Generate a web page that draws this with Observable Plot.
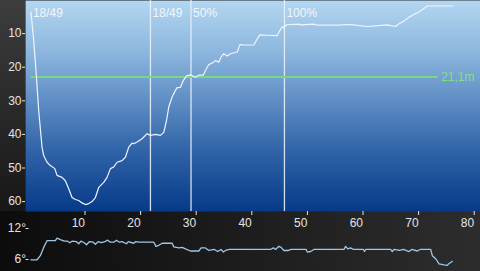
<!DOCTYPE html>
<html><head><meta charset="utf-8">
<script src="https://cdn.jsdelivr.net/npm/d3@7"></script>
<script src="https://cdn.jsdelivr.net/npm/@observablehq/plot@0.6"></script>
<style>
html,body{margin:0;padding:0;background:#000;}
#wrap{position:relative;width:480px;height:271px;overflow:hidden;background:linear-gradient(to right,#0c0c0c,#2d2d2d);font-family:"Liberation Sans",Arial,sans-serif;}
#strip{position:absolute;left:0;top:0;width:25px;height:211px;background:linear-gradient(#3d3d3d,#171717);}
#main,#temp{position:absolute;left:0;}
#main{top:0}
#temp{top:211px}
svg{overflow:visible;display:block}
</style></head><body>
<div id="wrap"><div id="strip"></div><div id="main"></div><div id="temp"></div></div>
<script>
// ---- data ----
const depthTime = [0,0.5,1.0,1.4,2.0,2.3,2.9,3.5,4.3,4.7,5.6,6.2,6.8,7.4,8.0,8.6,9.2,9.8,10.4,11.0,11.6,12.2,13.1,13.7,14.3,14.9,15.5,16.4,17.0,17.6,18.2,18.5,19.1,20.0,20.9,21.5,22.4,23.3,23.9,24.4,24.8,25.4,26.0,26.3,26.9,27.4,28.0,28.7,29.6,30.2,31.0,31.4,32.0,32.6,33.2,33.8,34.2,34.7,35.3,35.9,37.1,37.6,38.3,40.1,40.7,41.2,42.5,44.3,44.6,45.2,45.5,45.8,46.7,48.2,48.5,50.9,51.2,55.1,57.5,58.0,60.5,64.1,65.6,66.2,67.1,68.0,68.9,69.8,71.3,75.8];
const depthValue = [1.8,10,21.3,31,42,44.5,46.5,47.5,48.4,50.4,51,52,54.4,57,57.6,57.9,58.6,59.1,58.8,58.2,57,54,52.5,51,48.4,47.9,46.5,46,45,42,40.8,41,40.5,39.5,38,38.5,38.2,38.5,37.6,34,30,27.1,25.1,24.3,24.2,22.2,20.8,20.5,21.2,20.6,20.6,19.2,17.4,17,16.2,16.7,15.2,14.2,14.9,14.2,13.7,11.5,11.6,11.6,9.8,8.6,8.7,8.8,7.8,6.1,6.6,5.7,5.5,5.4,5.6,5.4,5.6,5.7,5.5,5.6,6.1,5.6,6.1,5.3,4.5,3.3,2.5,1.8,0,0];

const tempTime = [0,1.1,1.7,2.3,2.9,4.4,4.7,5.3,6.0,6.6,7.0,7.4,8.2,8.6,9.0,9.6,10.0,10.5,11.2,11.6,12.1,12.7,13.3,13.8,14.3,14.9,15.4,15.9,16.4,17.2,17.5,18.5,18.8,19.5,22.1,22.5,23.0,23.6,25.4,25.7,26.6,27.2,27.8,28.7,30.2,30.6,31.4,32.0,33.0,33.6,34.2,34.6,35.0,35.7,40.4,43.1,43.6,44.0,44.6,45.0,45.5,46.3,46.8,49.5,49.7,50.3,50.9,56.3,56.6,57.0,57.5,58.0,59.8,60.0,60.2,64.7,65.0,65.3,66.3,67.0,68.0,68.5,69.5,70.0,71.9,72.2,72.8,73.4,74.3,74.9,75.1,75.8];
const tempValue = [7.3,7.3,8.1,9.7,11.0,11.0,11.5,11.2,10.9,10.9,10.6,10.9,10.8,10.4,10.9,10.6,10.2,10.8,10.7,10.3,10.8,10.6,10.8,11.1,10.7,10.7,11.1,10.7,10.8,10.4,10.8,10.5,10.8,10.7,10.7,9.9,10.1,10.5,10.5,9.8,9.6,9.7,9.4,9.0,9.0,9.6,9.6,9.1,9.3,8.9,9.3,8.8,9.1,9.3,9.3,9.3,9.6,9.3,9.9,9.7,9.1,9.1,9.3,9.3,8.8,8.9,9.3,9.3,9.9,9.4,9.6,9.3,9.3,8.9,9.3,9.3,8.9,9.3,9.1,9.3,8.9,9.3,9.0,9.3,9.3,8.1,7.5,6.5,6.3,6.2,6.5,7.0];

const eventTime = [0,21.5,28.8,45.6];
const eventLabel = ["18/49","18/49","50%","100%"];
const eventHasLine = [false,true,true,true];

const limitDepth = 21.1;
const limitLabel = "21,1m";
const limitStart = 0;
const limitEnd = 73.3;

const xTicks = [10,20,30,40,50,60,70,80];
const yTicks = [10,20,30,40,50,60];
const tempTicks = [6,12];

const xDomain = [-0.97,80.86];
const depthDomain = [-1.64,61.16];
const tempDomain = [6,12];

// ---- tables ----
const depth = depthTime.map((t,i)=>({t, d: depthValue[i]}));
const temps = tempTime.map((t,i)=>({t, T: tempValue[i]}));
const events = eventTime.map((t,i)=>({t, label: eventLabel[i], line: eventHasLine[i]}));

const font = "Liberation Sans, Arial, sans-serif";
const txt = "#e4e4e4";

const main = Plot.plot({
  width:480, height:235,
  marginLeft:25, marginRight:0, marginTop:0, marginBottom:24,
  style:{background:"transparent", fontFamily:font, fontSize:"12px", color:txt, overflow:"visible"},
  x:{domain:xDomain},
  y:{domain:depthDomain, reverse:true},
  marks:[
    Plot.frame({fill:"url(#bgGrad)", stroke:"none"}),
    Plot.ruleX(events.filter(e=>e.line), {x:"t", stroke:"#e8eff7", strokeWidth:1.3, strokeOpacity:0.9}),
    Plot.text(events, {x:"t", text:"label", frameAnchor:"top", dy:7.5, dx:2, textAnchor:"start", fill:"#f2f6fa", fontSize:12}),
    Plot.ruleY([limitDepth], {y:d=>d, x1:()=>limitStart, x2:()=>limitEnd, stroke:"#74d982", strokeWidth:2}),
    Plot.text([limitDepth], {y:d=>d, text:()=>limitLabel, frameAnchor:"right", dx:-6, textAnchor:"end", fill:"#7fe08c", fontSize:12}),
    Plot.line(depth, {x:"t", y:"d", stroke:"#eef4fa", strokeWidth:1.2}),
    Plot.axisY(yTicks, {tickSize:3, tickPadding:1, dy:-6, textAnchor:"end", stroke:txt, fill:txt, label:null}),
    Plot.axisX(xTicks, {tickSize:4, tickPadding:3, textAnchor:"end", dx:-1.5, stroke:txt, fill:txt, label:null})
  ]
});
d3.select(main).insert("defs",":first-child").html(
  '<linearGradient id="bgGrad" x1="0" y1="0" x2="0" y2="1">' +
  '<stop offset="0" stop-color="#b3d7f1"/>' +
  '<stop offset="0.25" stop-color="#8bb5dd"/>' +
  '<stop offset="0.5" stop-color="#5a89c1"/>' +
  '<stop offset="0.72" stop-color="#2f62a6"/>' +
  '<stop offset="1" stop-color="#063a89"/>' +
  '</linearGradient>');
document.getElementById("main").append(main);

const temp = Plot.plot({
  width:480, height:60,
  marginLeft:25, marginRight:0, marginTop:0, marginBottom:0,
  style:{background:"transparent", fontFamily:font, fontSize:"12px", color:txt, overflow:"visible"},
  x:{domain:xDomain, axis:null},
  y:{domain:tempDomain, range:[55,24], axis:null},
  marks:[
    Plot.axisY(tempTicks, {tickSize:3, tickPadding:0, dx:3.5, dy:-7, textAnchor:"end", tickFormat:d=>d+"°", stroke:txt, fill:txt, label:null}),
    Plot.line(temps, {x:"t", y:"T", stroke:"#9ec6e6", strokeWidth:1.3})
  ]
});
document.getElementById("temp").append(temp);
</script>
</body></html>
